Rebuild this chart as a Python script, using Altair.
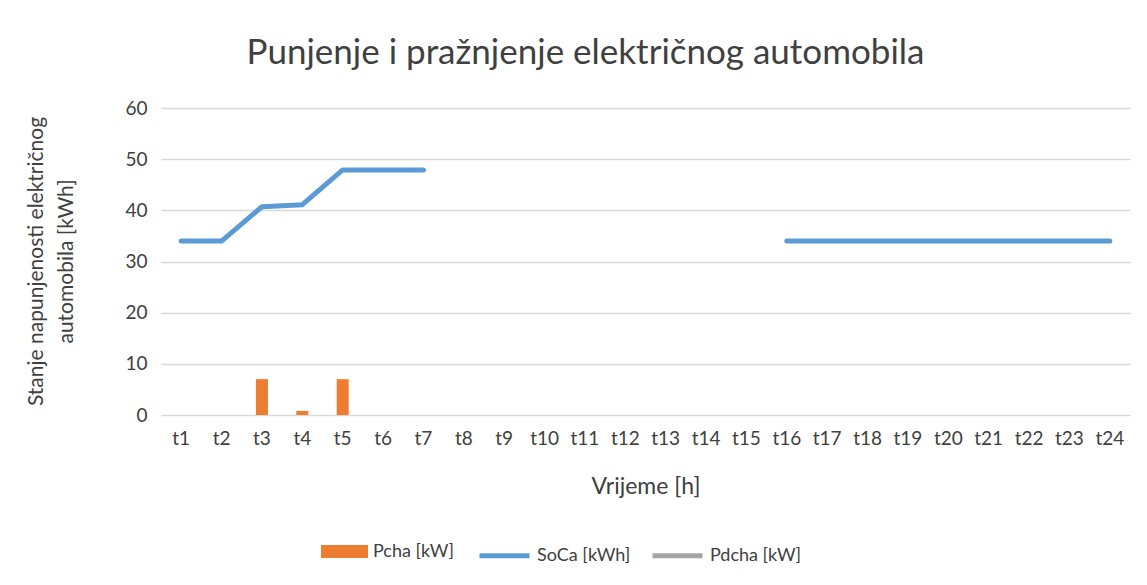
import altair as alt
import pandas as pd

periods = [f"t{i}" for i in range(1, 25)]
pcha = [0, 0, 7.0, 0.8, 7.0, 0, 0] + [None] * 17
soca = [34, 34, 40.7, 41.1, 47.9, 47.9, 47.9] + [None] * 8 + [34] * 9
pdcha = [None] * 24
y_ticks = [0, 10, 20, 30, 40, 50, 60]

bar_name = "Pcha [kW]"
line_names = ["SoCa [kWh]", "Pdcha [kW]"]

df_bar = pd.DataFrame({"period": periods, "value": pcha, "series": bar_name})
df_line = pd.concat([
    pd.DataFrame({"period": periods, "value": soca, "series": line_names[0]}),
    pd.DataFrame({"period": periods, "value": pdcha, "series": line_names[1]}),
], ignore_index=True)

FONT = "Lato"
TXT = "#404040"

x_enc = alt.X(
    "period:N", sort=periods,
    scale=alt.Scale(paddingInner=0, paddingOuter=0),
    axis=alt.Axis(title="Vrijeme [h]", labelAngle=0, domain=False, ticks=False,
                  grid=False, labelPadding=14, labelFontSize=19,
                  titleFontSize=23, titlePadding=27),
)
y_enc = alt.Y(
    "value:Q",
    scale=alt.Scale(domain=[0, 60], nice=False),
    axis=alt.Axis(values=y_ticks, title=["Stanje napunjenosti električnog", "automobila [kWh]"],
                  domain=False, ticks=False, grid=True, gridColor="#d9d9d9", gridWidth=1.3,
                  labelPadding=14, labelFontSize=19, titleFontSize=21, titleLineHeight=30,
                  titleX=-125, titleY=153, titleAngle=270, titleAlign="center",
                  titleBaseline="middle"),
)

bars = alt.Chart(df_bar).mark_bar(size=12).encode(
    x=x_enc,
    y=y_enc,
    fill=alt.Fill("series:N", scale=alt.Scale(domain=[bar_name], range=["#ed7d31"]),
                  legend=alt.Legend(orient="none", legendX=160, legendY=420, direction="horizontal",
                                    title=None, padding=0,
                                    symbolType="M-1,-0.28H1V0.28H-1Z", symbolSize=2209,
                                    symbolStrokeWidth=0, labelOffset=5, labelFontSize=18)),
)

lines = alt.Chart(df_line).mark_line(strokeWidth=5, strokeCap="round", strokeJoin="round",
                                     invalid="break-paths-show-domains").encode(
    x=x_enc,
    y=y_enc,
    stroke=alt.Stroke("series:N", scale=alt.Scale(domain=line_names, range=["#5b9bd5", "#a5a5a5"]),
                      legend=alt.Legend(orient="none", legendX=316, legendY=420, direction="horizontal",
                                        title=None, padding=0, symbolType="stroke", symbolSize=2500,
                                        symbolStrokeWidth=5, labelOffset=5, columnPadding=11,
                                        labelFontSize=18)),
)

chart = alt.layer(bars, lines).properties(
    width=969, height=307,
    autosize=alt.AutoSizeParams(type="none"),
    padding={"left": 153, "top": 100, "right": 9, "bottom": 162},
    title=alt.TitleParams("Punjenje i pražnjenje električnog automobila", fontSize=35, font=FONT,
                          color=TXT, fontWeight="normal", anchor="middle", frame="group",
                          dx=-60, offset=0, baseline="alphabetic"),
).configure_axis(
    labelFont=FONT, titleFont=FONT, labelColor=TXT, titleColor=TXT, titleFontWeight="normal",
).configure_legend(
    labelFont=FONT, labelColor=TXT,
).configure_view(stroke=None)

chart.save("out.html", embed_options={"renderer": "svg", "actions": False})
